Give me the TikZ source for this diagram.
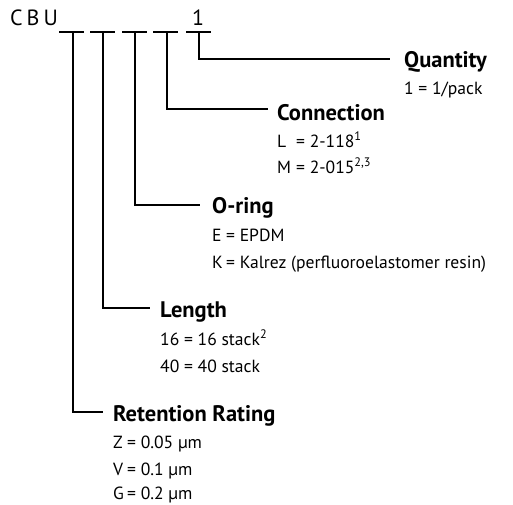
\documentclass[tikz,border=0pt]{standalone}
\usepackage{fontspec}
\setmainfont{PT Sans}
\begin{document}
\begin{tikzpicture}[x=1pt,y=-1pt,
  lnk/.style={line width=1.8pt},
  head/.style={anchor=base west,inner sep=0pt,font=\fontsize{22.5}{22.5}\selectfont\bfseries},
  vals/.style={anchor=base west,inner sep=0pt,font=\fontsize{17.6}{17.6}\selectfont,align=left},
  code/.style={anchor=base west,inner sep=0pt,font=\fontsize{22}{22}\selectfont\addfontfeature{LetterSpace=18}}]
\useasboundingbox (0,0) rectangle (513,504);
\node[code] (cbu) at (10,25) {CBU};
\node[code] (one) at (192,25) {1};
% tick segments
\foreach \a/\b/\n in {59/84/1,90/115/2,122/147/3,153/178/4,186/211/5}{
  \draw[lnk] (\a,32) -- (\b,32);
}
\coordinate (t1) at (73,32);
\coordinate (t2) at (103,32);
\coordinate (t3) at (135,32);
\coordinate (t4) at (167,32);
\coordinate (t5) at (199,32);
% headings
\node[head] (qh) at (404,67) {Quantity};
\node[vals] (qv) at (404,94) {1 = 1/pack};
\node[head] (ch) at (277,120) {Connection};
\node[vals] (cv1) at (277,147) {\makebox[19pt][l]{L}= 2-118\textsuperscript{1}};
\node[vals] (cv2) at (277,173) {\makebox[19pt][l]{M}= 2-015\textsuperscript{2,3}};
\node[head] (oh) at (212,213) {O-ring};
\node[vals] (ov1) at (212,241) {\makebox[14pt][l]{E}= EPDM};
\node[vals] (ov2) at (212,268) {\makebox[14pt][l]{K}= Kalrez (perfluoroelastomer resin)};
\node[head] (lh) at (160,317) {Length};
\node[vals] (lv1) at (160,345) {16 = 16 stack\textsuperscript{2}};
\node[vals] (lv2) at (160,372) {40 = 40 stack};
\node[head] (rh) at (113,421) {Retention Rating};
\node[vals] (rv1) at (113,448) {\makebox[14pt][l]{Z}= 0.05 µm};
\node[vals] (rv2) at (113,475) {\makebox[14pt][l]{V}= 0.1 µm};
\node[vals] (rv3) at (113,499) {\makebox[14pt][l]{G}= 0.2 µm};
% line ends
\coordinate (qe) at (390,59);
\coordinate (ce) at (268,109);
\coordinate (oe) at (200,205);
\coordinate (le) at (150,308);
\coordinate (re) at (103,412);
\draw[lnk] (t5) |- (qe);
\draw[lnk] (t4) |- (ce);
\draw[lnk] (t3) |- (oe);
\draw[lnk] (t2) |- (le);
\draw[lnk] (t1) |- (re);
\end{tikzpicture}
\end{document}
